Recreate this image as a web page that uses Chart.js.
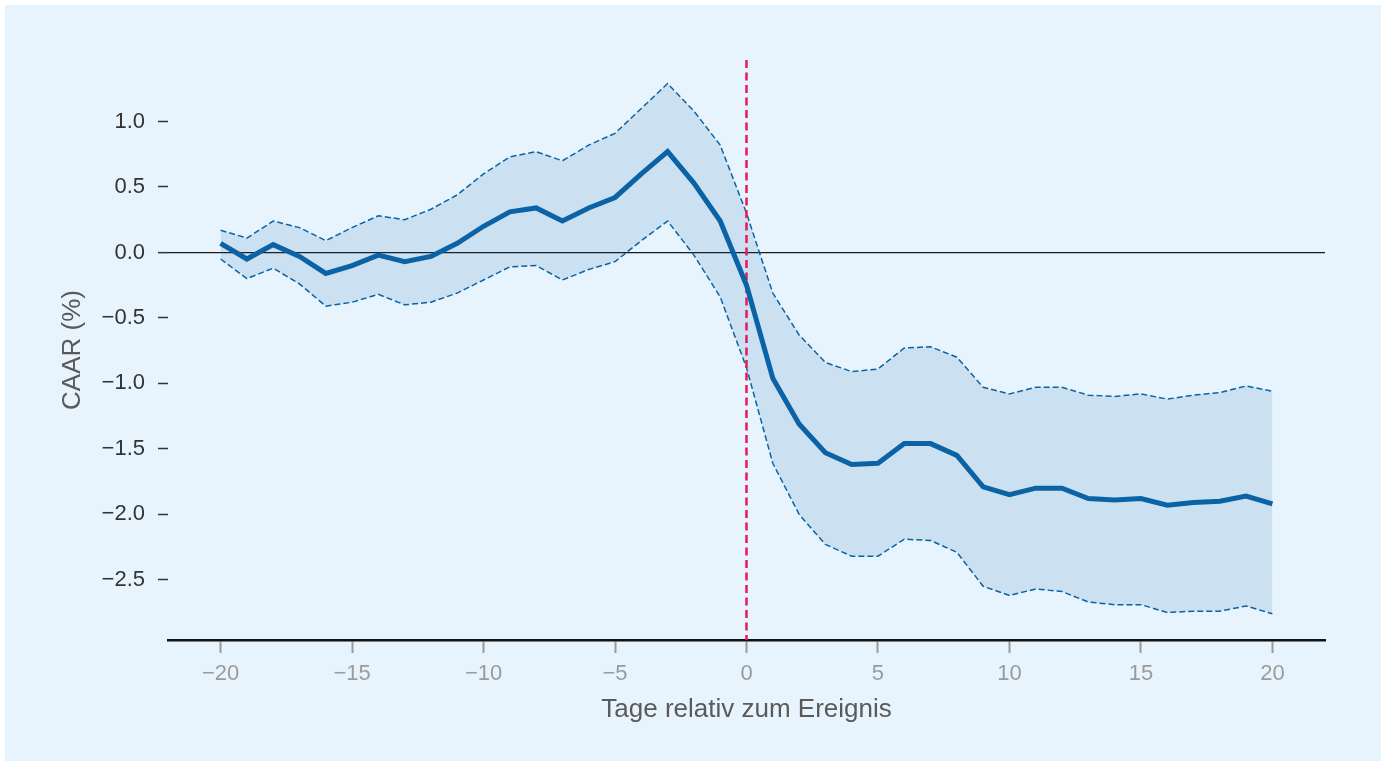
<!DOCTYPE html>
<html>
<head>
<meta charset="utf-8">
<script src="https://cdn.jsdelivr.net/npm/chart.js@4.4.1/dist/chart.umd.min.js"></script>
<style>
  html, body { margin: 0; padding: 0; background: #ffffff; }
  #wrap { width: 1385px; height: 765px; }
</style>
</head>
<body>
<div id="wrap"><canvas id="caarChart" width="1385" height="765"></canvas></div>
<script>
// event window (days relative to the event)
const days = [-20, -19, -18, -17, -16, -15, -14, -13, -12, -11, -10, -9, -8, -7, -6, -5, -4, -3, -2, -1,
    0, 1, 2, 3, 4, 5, 6, 7, 8, 9, 10, 11, 12, 13, 14, 15, 16, 17, 18, 19, 20]

// cumulative average abnormal return (%)
const caar = [0.07, -0.05, 0.06, -0.03, -0.16, -0.10, -0.02, -0.07, -0.03, 0.07, 0.20, 0.31, 0.34, 0.24, 0.34, 0.42, 0.60, 0.77, 0.53, 0.24,
    -0.25, -0.96, -1.31, -1.53, -1.62, -1.61, -1.46, -1.46, -1.55, -1.79, -1.85, -1.80, -1.80, -1.88, -1.89, -1.88, -1.93, -1.91, -1.90, -1.86, -1.92]

// confidence band
const upper = [0.17, 0.11, 0.24, 0.19, 0.09, 0.19, 0.28, 0.25, 0.33, 0.44, 0.60, 0.73, 0.77, 0.70, 0.82, 0.91, 1.10, 1.29, 1.08, 0.82,
    0.30, -0.31, -0.63, -0.84, -0.91, -0.89, -0.73, -0.72, -0.80, -1.03, -1.08, -1.03, -1.03, -1.09, -1.10, -1.08, -1.12, -1.09, -1.07, -1.02, -1.06]
const lower = [-0.05, -0.20, -0.12, -0.24, -0.41, -0.38, -0.32, -0.40, -0.38, -0.31, -0.21, -0.11, -0.10, -0.21, -0.13, -0.07, 0.09, 0.24, -0.02, -0.34,
    -0.88, -1.61, -2.00, -2.23, -2.32, -2.32, -2.19, -2.20, -2.29, -2.55, -2.62, -2.57, -2.59, -2.67, -2.69, -2.69, -2.75, -2.74, -2.74, -2.70, -2.76]

const xTicks = [-20, -15, -10, -5, 0, 5, 10, 15, 20]
const yTicks = [-2.5, -2.0, -1.5, -1.0, -0.5, 0.0, 0.5, 1.0]
const xRange = [-22, 22]
const yRange = [-2.96, 1.47]
const eventDay = 0

const FONT = "'Liberation Sans', Arial, Helvetica, sans-serif"
const BLUE = '#0b63a5'

let toPoints = function (values) {
    return days.map(function (d, i) { return { x: d, y: values[i] } })
}
let fmt = function (v, digits) {
    return v.toFixed(digits).replace('-', '\u2212')
}

// white frame with light blue panel
const panelBackground = {
    id: 'panelBackground',
    beforeDraw: function (chart) {
        const ctx = chart.ctx
        ctx.save()
        ctx.fillStyle = '#ffffff'
        ctx.fillRect(0, 0, chart.width, chart.height)
        ctx.fillStyle = '#e8f4fd'
        ctx.fillRect(5, 5, 1376, 756)
        ctx.restore()
    }
}

new Chart(document.getElementById('caarChart'), {
    type: 'line',
    data: {
        datasets: [
            {
                label: 'CAAR',
                data: toPoints(caar),
                borderColor: BLUE,
                borderWidth: 5,
                pointRadius: 0,
                fill: false,
                tension: 0,
                order: 0
            },
            {
                label: 'Obergrenze',
                data: toPoints(upper),
                borderColor: BLUE,
                borderWidth: 1.5,
                borderDash: [6, 3],
                pointRadius: 0,
                backgroundColor: 'rgba(11, 99, 165, 0.13)',
                fill: '+1',
                order: 2
            },
            {
                label: 'Untergrenze',
                data: toPoints(lower),
                borderColor: BLUE,
                borderWidth: 1.5,
                borderDash: [6, 3],
                pointRadius: 0,
                fill: false,
                order: 2
            },
            {
                label: 'Ereignis',
                data: [{ x: eventDay, y: yRange[1] }, { x: eventDay, y: yRange[0] }],
                borderColor: '#e8185a',
                borderWidth: 2.5,
                borderDash: [8, 4.5],
                pointRadius: 0,
                fill: false,
                order: 1
            }
        ]
    },
    options: {
        responsive: false,
        devicePixelRatio: 1,
        animation: false,
        layout: { padding: { top: 60, right: 60, bottom: 0, left: 0 } },
        plugins: {
            legend: { display: false },
            tooltip: { enabled: false }
        },
        scales: {
            x: {
                type: 'linear',
                min: xRange[0],
                max: xRange[1],
                afterBuildTicks: function (scale) {
                    scale.ticks = xTicks.map(function (v) { return { value: v } })
                },
                afterFit: function (scale) { scale.height = 125 },
                grid: {
                    drawOnChartArea: false,
                    tickLength: 13,
                    tickColor: '#9a9a9a',
                    tickWidth: 2
                },
                border: { display: true, color: '#111111', width: 2.5 },
                ticks: {
                    padding: 8,
                    color: '#9b9b9b',
                    font: { family: FONT, size: 22 },
                    callback: function (v) { return fmt(v, 0) }
                },
                title: {
                    display: true,
                    text: 'Tage relativ zum Ereignis',
                    color: '#5a5a5a',
                    font: { family: FONT, size: 26 },
                    padding: { top: 0, bottom: 40 }
                }
            },
            y: {
                min: yRange[0],
                max: yRange[1],
                afterBuildTicks: function (scale) {
                    scale.ticks = yTicks.map(function (v) { return { value: v } })
                },
                afterFit: function (scale) { scale.width = 168 },
                grid: {
                    color: function (c) {
                        return c.tick && c.tick.value === 0 ? '#1a1a1a' : 'rgba(242, 242, 242, 0.8)'
                    },
                    lineWidth: function (c) {
                        return c.tick && c.tick.value === 0 ? 1.3 : 1
                    },
                    tickLength: 10,
                    tickColor: '#333333',
                    tickWidth: 1.5
                },
                border: { display: false },
                ticks: {
                    padding: 13,
                    color: '#333333',
                    font: { family: FONT, size: 22 },
                    callback: function (v) { return fmt(v, 1) }
                },
                title: {
                    display: true,
                    text: 'CAAR (%)',
                    color: '#5a5a5a',
                    font: { family: FONT, size: 26 },
                    padding: { top: 57, bottom: 0 }
                }
            }
        }
    },
    plugins: [panelBackground]
})
</script>
</body>
</html>
